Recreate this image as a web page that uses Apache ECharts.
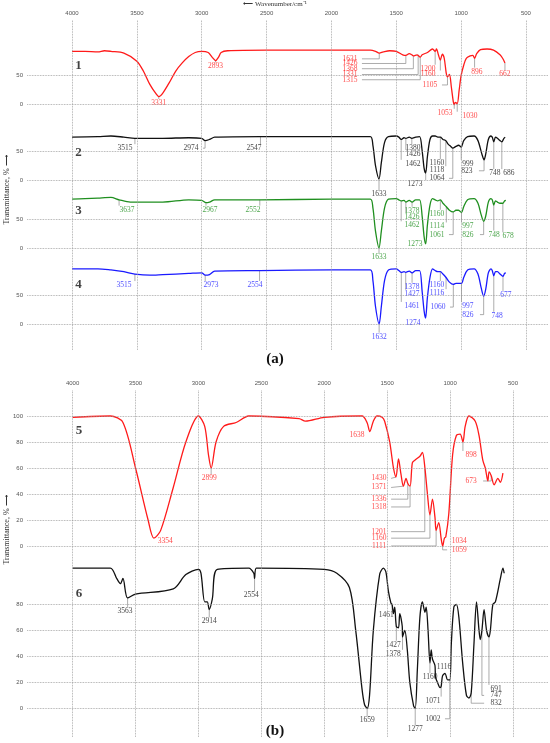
<!DOCTYPE html>
<html><head><meta charset="utf-8">
<script src="https://cdn.jsdelivr.net/npm/echarts@6/dist/echarts.min.js"></script>
<style>html,body{margin:0;padding:0;background:#fff}#c{width:550px;height:743px}</style>
</head><body><div id="c"></div>
<script>
const xTicks = [4000,3500,3000,2500,2000,1500,1000,500];
// panel (a) spectra [wavenumber, transmittance %]
const s1 = [[4000,92],[3900,92],[3800,91],[3750,93],[3700,92],[3600,89],[3500,75],[3450,58],[3400,35],[3350,18],[3331,14],[3300,20],[3250,38],[3200,58],[3150,72],[3100,83],[3050,90],[3000,92],[2950,90],[2920,82],[2893,76],[2870,82],[2850,90],[2800,93],[2500,94],[2000,94],[1700,94],[1660,92],[1631,89],[1600,91],[1550,93],[1500,92],[1450,86],[1426,85],[1400,88],[1380,86],[1368,84],[1340,86],[1315,82],[1300,86],[1260,90],[1220,96],[1200,92],[1190,96],[1175,86],[1160,77],[1145,87],[1130,80],[1115,55],[1105,48],[1090,52],[1075,30],[1060,5],[1053,0],[1045,4],[1030,2],[1015,25],[1000,50],[980,68],[960,80],[930,84],[910,85],[896,80],[880,88],[850,95],[800,96],[750,94],[700,86],[680,80],[662,72]];
const s2 = [[4000,74],[3800,75],[3700,76],[3600,74],[3515,72],[3300,72],[3100,73],[3000,72],[2974,68],[2940,70],[2900,74],[2547,75],[2000,75],[1700,75],[1680,60],[1660,25],[1633,2],[1615,30],[1590,65],[1560,75],[1500,76],[1480,74],[1462,70],[1440,73],[1426,72],[1400,74],[1380,72],[1350,74],[1320,75],[1300,50],[1285,20],[1273,12],[1260,40],[1240,70],[1220,76],[1200,76],[1180,74],[1160,74],[1140,70],[1118,68],[1100,62],[1080,58],[1064,55],[1040,58],[1020,60],[999,57],[980,68],[950,75],[900,76],[870,68],[840,45],[823,35],[810,45],[790,70],[770,76],[760,74],[748,66],[735,74],[720,72],[700,68],[686,66],[670,72],[660,74]];
const s3 = [[4000,85],[3900,86],[3800,87],[3700,88],[3637,84],[3550,80],[3300,80],[3100,84],[3000,83],[2967,79],[2940,80],[2900,84],[2552,84],[2000,85],[1700,85],[1680,70],[1660,30],[1633,1],[1615,30],[1590,70],[1560,85],[1500,86],[1480,84],[1462,82],[1440,83],[1426,80],[1400,83],[1378,80],[1350,84],[1320,84],[1300,55],[1285,20],[1273,8],[1260,40],[1240,75],[1220,86],[1200,84],[1180,82],[1160,84],[1140,78],[1114,72],[1090,66],[1061,63],[1040,66],[1020,66],[997,62],[980,72],[950,84],[900,86],[870,78],[845,58],[826,47],[810,56],[790,80],[770,86],[760,84],[748,75],[735,82],[720,80],[700,78],[678,78],[665,82],[655,83]];
const s4 = [[4000,95],[3800,95],[3700,93],[3600,90],[3515,86],[3400,84],[3300,85],[3100,87],[3000,88],[2973,84],[2940,85],[2900,91],[2554,92],[2000,93],[1700,93],[1680,75],[1660,30],[1632,0],[1615,30],[1590,75],[1560,93],[1500,95],[1480,92],[1461,89],[1440,90],[1427,89],[1400,91],[1378,88],[1350,92],[1320,92],[1300,55],[1285,22],[1274,10],[1260,45],[1240,80],[1220,95],[1200,92],[1180,90],[1160,90],[1140,86],[1116,80],[1090,72],[1060,68],[1040,70],[1020,70],[997,70],[980,80],[950,93],[900,95],[870,86],[845,62],[826,48],[810,60],[790,88],[770,95],[760,92],[748,83],[735,90],[720,90],[700,86],[677,82],[665,87],[655,88]];
// panel (b) spectra
const s5 = [[4000,99],[3700,100],[3600,95],[3500,60],[3400,20],[3354,6],[3300,12],[3200,45],[3100,80],[3000,100],[2950,92],[2920,70],[2899,60],[2860,80],[2800,92],[2700,95],[2600,100],[2200,98],[2150,96],[2000,99],[1700,100],[1660,95],[1638,88],[1610,96],[1580,100],[1540,99],[1520,96],[1480,80],[1450,60],[1430,53],[1410,67],[1390,55],[1371,46],[1350,52],[1336,48],[1318,46],[1300,64],[1280,66],[1240,69],[1220,72],[1200,60],[1180,40],[1160,24],[1140,36],[1120,22],[1111,12],[1090,18],[1070,5],[1059,0],[1045,6],[1034,7],[1010,25],[980,70],[950,85],[920,86],[898,80],[880,92],[850,100],[800,96],[770,85],[740,66],[720,60],[700,50],[690,57],[673,54],[650,47],[620,52],[600,49],[580,56]];
const s6 = [[4000,108],[3700,108],[3650,100],[3620,96],[3600,100],[3563,85],[3500,88],[3200,92],[3100,103],[3000,107],[2980,104],[2950,82],[2930,82],[2914,76],[2890,84],[2850,107],[2600,108],[2560,104],[2554,100],[2540,108],[2000,107],[1900,104],[1800,93],[1750,60],[1700,15],[1680,3],[1659,0],[1640,10],[1610,60],[1560,103],[1530,108],[1510,105],[1490,90],[1470,81],[1461,80],[1450,73],[1440,78],[1427,63],[1410,62],[1400,73],[1380,63],[1378,55],[1360,60],[1340,45],[1320,20],[1290,2],[1277,0],[1260,30],[1240,70],[1220,82],[1200,74],[1190,78],[1175,60],[1160,35],[1150,45],[1140,38],[1120,33],[1116,24],[1100,20],[1080,16],[1071,17],[1060,25],[1040,27],[1020,22],[1002,22],[990,50],[970,78],[950,80],[930,70],[900,35],[870,10],[850,8],[832,12],[810,50],[790,82],[770,60],[760,53],[747,60],[730,76],[710,60],[691,55],[680,60],[660,80],[640,82],[600,100],[580,108],[570,104]];
// peak labels [label wavenumber, label transmittance, text]
const L1 = [[3331,3,'3331'],[2893,66,'2893'],[1857,79,'1631'],[1857,71,'1426'],[1857,62,'1368'],[1857,52,'1331'],[1857,43,'1315'],[1255,62,'1200'],[1255,52,'1160'],[1240,34,'1105'],[1124,-14,'1053'],[931,-19,'1030'],[878,57,'896'],[662,52,'662']];
const L2 = [[3591,55,'3515'],[3083,55,'2974'],[2597,55,'2547'],[1633,-24,'1633'],[1371,55,'1380'],[1371,45,'1426'],[1371,28,'1462'],[1356,-7,'1273'],[1186,29,'1160'],[1186,17,'1118'],[1186,3,'1064'],[947,28,'999'],[955,16,'823'],[739,12,'748'],[631,12,'686']];
const L3 = [[3576,67,'3637'],[2936,67,'2967'],[2605,67,'2552'],[1633,-15,'1633'],[1379,65,'1378'],[1379,55,'1426'],[1379,40,'1462'],[1356,7,'1273'],[1186,60,'1160'],[1186,38,'1114'],[1186,24,'1061'],[947,38,'997'],[947,24,'826'],[746,24,'748'],[638,21,'678']];
const L4 = [[3599,67,'3515'],[2928,67,'2973'],[2589,67,'2554'],[1632,-22,'1632'],[1379,64,'1378'],[1379,52,'1427'],[1379,31,'1461'],[1371,2,'1274'],[1186,67,'1160'],[1186,53,'1116'],[1178,29,'1060'],[947,31,'997'],[947,16,'826'],[723,14,'748'],[654,50,'677']];
const L5 = [[3264,4,'3354'],[2914,52,'2899'],[1739,85,'1638'],[833,70,'898'],[833,50,'673'],[1564,52,'1430'],[1564,45,'1371'],[1564,36,'1336'],[1564,30,'1318'],[1564,11,'1201'],[1564,6,'1160'],[1564,0,'1111'],[928,4,'1034'],[928,-3,'1059']];
const L6 = [[3584,75,'3563'],[2914,67,'2914'],[2580,87,'2554'],[1659,-9,'1659'],[1508,72,'1461'],[1452,49,'1427'],[1452,42,'1378'],[1277,-16,'1277'],[1159,24,'1160'],[1048,32,'1116'],[1136,6,'1071'],[1136,-8,'1002'],[634,15,'691'],[634,10,'747'],[634,4,'832']];
const yTicksA = [0,50];
const yTicksB5 = [0,20,40,60,80,100];
const yTicksB6 = [0,20,40,60,80];

const chart = echarts.init(document.getElementById('c'));
const FONT = 'Liberation Serif';
const grey = '#999';
const offA = [378, 248, 130, 0];
const offB = [125, 0];
function shift(arr, off){ return arr.map(p => [p[0], p[1] + off]); }
function spec(data, off, color, grid){
  return {type:'line', xAxisIndex:grid, yAxisIndex:grid, data:shift(data,off), showSymbol:false, smooth:0.3,
    lineStyle:{color, width:1.3}, z:3, silent:true};
}
function labels(arr, off, color, grid){
  return {type:'scatter', xAxisIndex:grid, yAxisIndex:grid, symbolSize:0, z:4, silent:true,
    data: arr.map(p => [p[0], p[1]+off, p[2]]),
    label:{show:true, position:'inside', formatter:q=>q.value[2], color, fontSize:7.5, fontFamily:FONT}};
}
function nearestT(spec, wn){
  let best = spec[0];
  spec.forEach(p => { if (Math.abs(p[0]-wn) < Math.abs(best[0]-wn)) best = p; });
  return best[1];
}
function leaders(arr, spec, off, grid, wnPx, tPx){
  const data = [];
  arr.forEach(p => {
    const pk = Number(p[2]), pt = nearestT(spec, pk) + off, ly = p[1] + off;
    const dx = pk - p[0];
    if (Math.abs(dx) < 14*wnPx) {
      const end = ly + (pt > ly ? 4 : -4)*tPx;
      if ((pt - end) * (pt - ly) > 0) data.push([pk, pt], [pk, end], '-');
    } else {
      const xe = p[0] + Math.sign(dx)*12*wnPx;
      data.push([pk, pt], [pk, ly], [xe, ly], '-');
    }
  });
  return {type:'line', xAxisIndex:grid, yAxisIndex:grid, data, showSymbol:false, connectNulls:false, silent:true, z:2,
    lineStyle:{color:'#888', width:0.7}};
}
function hlines(ticks, off, grid){
  return {type:'line', xAxisIndex:grid, yAxisIndex:grid, data:[], silent:true,
    markLine:{symbol:'none', silent:true, lineStyle:{type:'dotted', color:grey, width:0.8}, label:{show:false},
      data: ticks.map(t => ({yAxis: t+off}))}};
}
function vlines(grid){
  return {type:'line', xAxisIndex:grid, yAxisIndex:grid, data:[], silent:true,
    markLine:{symbol:'none', silent:true, lineStyle:{type:'dotted', color:grey, width:0.8}, label:{show:false},
      data: xTicks.map(t => ({xAxis: t}))}};
}
function name(txt, x, off, grid){
  return {type:'scatter', xAxisIndex:grid, yAxisIndex:grid, symbolSize:0, silent:true,
    data:[[x, off, txt]], label:{show:true, position:'inside', formatter:q=>q.value[2], fontSize:13, fontWeight:'bold', fontFamily:FONT, color:'#111'}};
}
function xAx(grid, min, max){
  return {type:'value', gridIndex:grid, position:'top', inverse:true, min, max,
    axisLine:{show:false}, axisTick:{show:false}, splitLine:{show:false},
    axisLabel:{customValues:xTicks, formatter:v=>String(v), fontSize:6, color:'#555', margin:4}};
}
function yAx(grid, min, max, groups){
  const vals = [], map = {};
  groups.forEach(g => g.ticks.forEach(t => { vals.push(t+g.off); map[t+g.off] = String(t); }));
  return {type:'value', gridIndex:grid, min, max, axisLine:{show:false}, axisTick:{show:false}, splitLine:{show:false},
    axisLabel:{customValues:vals, formatter:v=>map[v] ?? '', fontSize:6, color:'#555', margin:4}};
}
const pxA = [7.71, 1.72], pxB = [7.95, 0.77];
chart.setOption({
  animation:false,
  grid:[{left:27, right:2, top:20, height:330},{left:27, right:2, top:390, height:347}],
  xAxis:[xAx(0, 330, 4347), xAx(1, 500-(548-513)*7.95, 4000+(72.6-27)*7.95)],
  yAxis:[yAx(0, -45, 524, offA.map(o=>({off:o, ticks:yTicksA}))),
         yAx(1, -22, 245, [{off:offB[0], ticks:yTicksB5},{off:offB[1], ticks:yTicksB6}])],
  graphic:[
    {type:'text', left:'center', top:1, style:{text:'⟵ Wavenumber/cm⁻¹', fontSize:7, fontFamily:FONT, fill:'#333'}},
    {type:'text', left:'center', top:352, style:{text:'(a)', fontSize:15, fontWeight:'bold', fontFamily:FONT, fill:'#111'}},
    {type:'text', left:'center', top:724, style:{text:'(b)', fontSize:15, fontWeight:'bold', fontFamily:FONT, fill:'#111'}},
    {type:'text', x:3, y:190, rotation:Math.PI/2, style:{text:'Transmittance, % ⟶', fontSize:8, fontFamily:FONT, fill:'#333', align:'center'}},
    {type:'text', x:3, y:530, rotation:Math.PI/2, style:{text:'Transmittance, % ⟶', fontSize:8, fontFamily:FONT, fill:'#333', align:'center'}}
  ],
  series:[
    vlines(0), vlines(1),
    hlines(yTicksA, offA[0], 0), hlines(yTicksA, offA[1], 0), hlines(yTicksA, offA[2], 0), hlines(yTicksA, offA[3], 0),
    hlines(yTicksB5, offB[0], 1), hlines(yTicksB6, offB[1], 1),
    leaders(L1, s1, offA[0], 0, ...pxA), leaders(L2, s2, offA[1], 0, ...pxA), leaders(L3, s3, offA[2], 0, ...pxA), leaders(L4, s4, offA[3], 0, ...pxA),
    leaders(L5, s5, offB[0], 1, ...pxB), leaders(L6, s6, offB[1], 1, ...pxB),
    spec(s1, offA[0], '#ff1a1a', 0), spec(s2, offA[1], '#111', 0), spec(s3, offA[2], '#1f8f1f', 0), spec(s4, offA[3], '#1a1aff', 0),
    spec(s5, offB[0], '#ff1a1a', 1), spec(s6, offB[1], '#111', 1),
    labels(L1, offA[0], '#ff1a1a', 0), labels(L2, offA[1], '#111', 0), labels(L3, offA[2], '#1f8f1f', 0), labels(L4, offA[3], '#1a1aff', 0),
    labels(L5, offB[0], '#ff1a1a', 1), labels(L6, offB[1], '#111', 1),
    name('1', 3950, offA[0]+67, 0), name('2', 3950, offA[1]+48, 0), name('3', 3950, offA[2]+65, 0), name('4', 3950, offA[3]+67, 0),
    name('5', 3950, offB[0]+89, 1), name('6', 3950, offB[1]+88, 1)
  ]
});
</script></body></html>
